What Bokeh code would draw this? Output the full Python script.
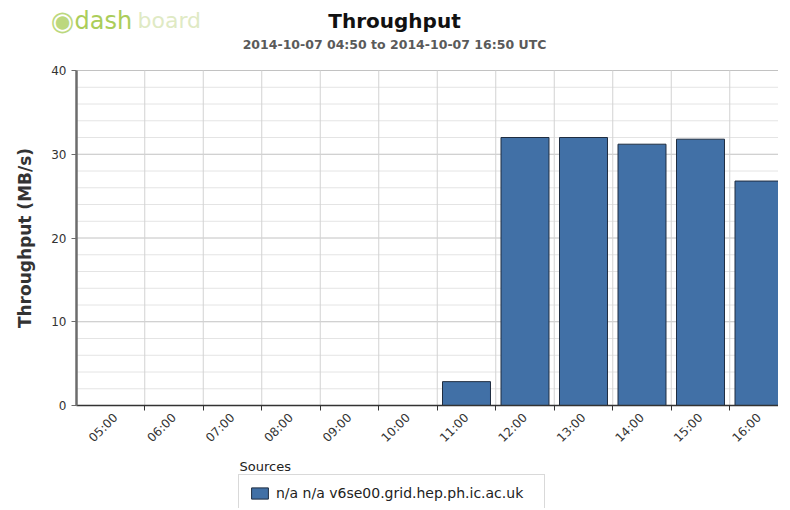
import math
from bokeh.plotting import figure
from bokeh.models import Range1d, FixedTicker, Label, Legend, LegendItem, ColumnDataSource
from bokeh.embed import file_html
from bokeh.resources import INLINE

# ---- data ----
hours = [5, 6, 7, 8, 9, 10, 11, 12, 13, 14, 15, 16]
tick_labels = ["05:00", "06:00", "07:00", "08:00", "09:00", "10:00",
               "11:00", "12:00", "13:00", "14:00", "15:00", "16:00"]
throughput = [0, 0, 0, 0, 0, 0, 2.85, 32.0, 32.0, 31.2, 31.8, 26.8]
y_ticks = [0, 10, 20, 30, 40]
y_minor = [2, 4, 6, 8, 12, 14, 16, 18, 22, 24, 26, 28, 32, 34, 36, 38]
hour_bounds = [6, 7, 8, 9, 10, 11, 12, 13, 14, 15, 16]
source_name = "n/a n/a v6se00.grid.hep.ph.ic.ac.uk"
title_text = "Throughput"
subtitle_text = "2014-10-07 04:50 to 2014-10-07 16:50 UTC"
y_label = "Throughput (MB/s)"

FONT = "DejaVu Sans"
W, H = 778, 508

# plot area geometry (frame covers the whole canvas; axes are pinned)
X0, X1 = 4 + 50 / 60, 16 + 50 / 60     # 04:50 .. 16:50
Y0, Y1 = 0, 40
LEFT, RIGHT, TOP, BOTTOM = 76, 778, 70, 405
pxh = (RIGHT - LEFT) / (X1 - X0)
pxy = (BOTTOM - TOP) / (Y1 - Y0)

p = figure(width=W, height=H, output_backend="svg", toolbar_location=None,
           x_range=Range1d(X0 - LEFT / pxh, X1 + (W - RIGHT) / pxh),
           y_range=Range1d(Y0 - (H - BOTTOM) / pxy, Y1 + TOP / pxy),
           min_border=0, min_border_left=0, min_border_right=0,
           min_border_top=0, min_border_bottom=0)
p.outline_line_color = None
p.grid.visible = False
p.background_fill_color = "white"
p.border_fill_color = "white"

# grid lines (from the tick lists)
p.segment(x0=[X0] * len(y_minor), y0=y_minor, x1=[X1] * len(y_minor), y1=y_minor,
          line_color="#e4e4e4", line_width=1)
p.segment(x0=[X0] * len(y_ticks), y0=y_ticks, x1=[X1] * len(y_ticks), y1=y_ticks,
          line_color="#c2c2c2", line_width=1)
p.segment(x0=hour_bounds, y0=[Y0] * len(hour_bounds), x1=hour_bounds,
          y1=[Y1] * len(hour_bounds), line_color="#d2d2d2", line_width=1)

# bars
src = ColumnDataSource(dict(x=[h + 0.5 for h in hours], top=throughput))
bars = p.vbar(x="x", top="top", bottom=0, width=0.82, source=src,
              fill_color="#4170a6", line_color="#1f2d40", line_width=1)

# x axis
xa = p.xaxis[0]
xa.fixed_location = 0
xa.bounds = (X0, X1)
xa.ticker = FixedTicker(ticks=[h + 0.5 for h in hours], minor_ticks=hour_bounds)
xa.major_label_overrides = {h + 0.5: l for h, l in zip(hours, tick_labels)}
xa.major_label_orientation = math.pi / 4
xa.major_label_text_font = FONT
xa.major_label_text_font_size = "12px"
xa.major_label_text_color = "#333333"
xa.major_label_standoff = 5
xa.axis_line_color = "#333333"
xa.axis_line_width = 1.5
xa.major_tick_line_color = None
xa.major_tick_out = 0
xa.major_tick_in = 0
xa.minor_tick_line_color = "#333333"
xa.minor_tick_out = 5
xa.minor_tick_in = 0

# y axis
ya = p.yaxis[0]
ya.fixed_location = X0
ya.bounds = (Y0, Y1)
ya.ticker = FixedTicker(ticks=y_ticks)
ya.axis_label = y_label
ya.axis_label_text_font = FONT
ya.axis_label_text_font_style = "bold"
ya.axis_label_text_font_size = "17px"
ya.axis_label_text_color = "#333333"
ya.axis_label_standoff = 13
ya.major_label_text_font = FONT
ya.major_label_text_font_size = "12px"
ya.major_label_text_color = "#333333"
ya.major_label_standoff = 5
ya.axis_line_color = "#6c6c6c"
ya.axis_line_width = 2.5
ya.major_tick_line_color = "#6c6c6c"
ya.major_tick_out = 5
ya.major_tick_in = 0
ya.minor_tick_line_color = None

# titles (screen units from the canvas bottom-left)
p.add_layout(Label(x=394, y=H - 20, x_units="screen", y_units="screen", text=title_text,
                   text_font=FONT, text_font_style="bold", text_font_size="20px",
                   text_color="#111111", text_align="center", text_baseline="middle"))
p.add_layout(Label(x=394, y=H - 44, x_units="screen", y_units="screen", text=subtitle_text,
                   text_font=FONT, text_font_style="bold", text_font_size="12.5px",
                   text_color="#5a5a5a", text_align="center", text_baseline="middle"))

# logo
p.add_layout(Label(x=62, y=H - 20, x_units="screen", y_units="screen", text="\u25C9",
                   text_font=FONT, text_font_size="27px",
                   text_color="#bcd87e", text_align="center", text_baseline="middle"))
p.add_layout(Label(x=74, y=H - 20, x_units="screen", y_units="screen", text="dash",
                   text_font=FONT, text_font_size="24px",
                   text_color="#abcd5a", text_align="left", text_baseline="middle"))
p.add_layout(Label(x=137, y=H - 20, x_units="screen", y_units="screen", text="board",
                   text_font=FONT, text_font_size="22px",
                   text_color="#dfeac4", text_align="left", text_baseline="middle"))

# legend
p.add_layout(Label(x=239, y=H - 466, x_units="screen", y_units="screen", text="Sources",
                   text_font=FONT, text_font_size="13px",
                   text_color="#222222", text_align="left", text_baseline="middle"))
legend = Legend(items=[LegendItem(label=source_name, renderers=[bars])],
                location=(238, H - 512), orientation="horizontal",
                label_text_font=FONT, label_text_font_size="14px",
                label_text_color="#222222", label_width=258, label_height=14,
                label_standoff=6, glyph_width=21, glyph_height=14,
                padding=10, margin=0, spacing=0,
                border_line_color="#b4b4b4", border_line_width=1,
                background_fill_color="white", background_fill_alpha=1)
p.add_layout(legend)

open("out.html", "w").write(file_html(p, INLINE))
